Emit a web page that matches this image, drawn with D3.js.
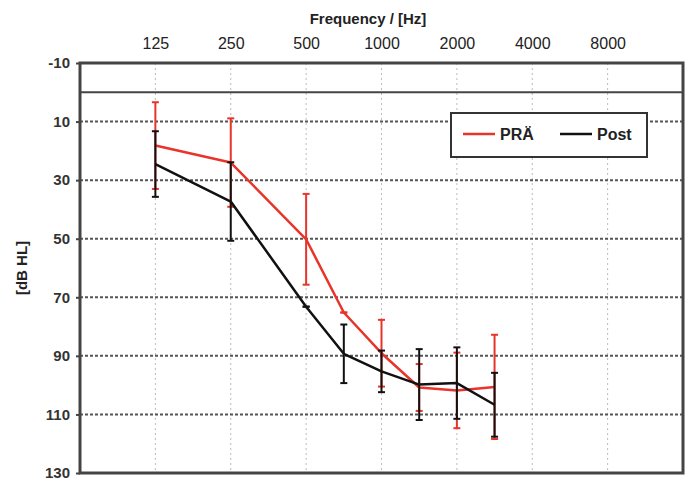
<!DOCTYPE html>
<html><head><meta charset="utf-8">
<script src="https://cdn.jsdelivr.net/npm/d3@7/dist/d3.min.js"></script>
<style>body{margin:0;background:#fff}svg{display:block}text{font-family:"Liberation Sans",Arial,sans-serif}</style>
</head><body><svg id="c" width="689" height="482"></svg>
<script>
// Data
const freqTicks = [125, 250, 500, 1000, 2000, 4000, 8000];
const dbTicks = [-10, 10, 30, 50, 70, 90, 110, 130];
const freqs = [125, 250, 500, 750, 1000, 1500, 2000, 3000];
const praMean = [18.2, 24.0, 50.2, 75.2, 89.1, 100.8, 101.8, 100.6];
const praSD   = [14.8, 15.1, 15.5, 0, 11.4, 8.0, 12.9, 17.8];
const postMean = [24.5, 37.3, 73.2, 89.3, 95.3, 99.8, 99.3, 106.7];
const postSD   = [11.2, 13.4, 0, 10.0, 7.1, 12.1, 12.2, 10.9];
const seriesNames = ["PRÄ", "Post"];
const colors = ["#e8342a", "#111"];

const svg = d3.select("#c");
const L = 80, R = 683, T = 63, B = 473;

// audiometric position: octaves above 125 Hz, intermediate frequencies placed halfway
const octPos = f => {
  const o = Math.log2(f / 125);
  const fl = Math.floor(o + 1e-9);
  return Math.abs(o - fl) < 1e-9 ? o : fl + 0.5;
};
const x = d3.scaleLinear().domain([-1, 7]).range([L, R]);
const y = d3.scaleLinear().domain([-10, 130]).range([T, B]);
const X = f => x(octPos(f));

// vertical dotted grid
svg.append("g").selectAll("line").data(freqTicks).join("line")
  .attr("x1", d => X(d)).attr("x2", d => X(d)).attr("y1", T).attr("y2", B)
  .attr("stroke", "#bbb").attr("stroke-width", 1).attr("stroke-dasharray", "2,3");
// horizontal dotted grid
svg.append("g").selectAll("line").data(dbTicks.filter(d => d > -10 && d < 130)).join("line")
  .attr("x1", L).attr("x2", R).attr("y1", d => y(d)).attr("y2", d => y(d))
  .attr("stroke", "#555").attr("stroke-width", 2).attr("stroke-dasharray", "3,2");
// 0 dB line
svg.append("line").attr("x1", L).attr("x2", R).attr("y1", y(0)).attr("y2", y(0))
  .attr("stroke", "#444").attr("stroke-width", 2);

// Left axis
const yAxis = d3.axisLeft(y).tickValues(dbTicks).tickSize(4).tickPadding(6).tickFormat(d => String(d));
const ga = svg.append("g").attr("transform", `translate(${L},0)`).call(yAxis);
ga.select(".domain").remove();
ga.selectAll("line").attr("stroke", "#444").attr("stroke-width", 2);
ga.selectAll("text").attr("font-size", 15).attr("font-weight", "bold").attr("fill", "#333");

// Top axis
const xAxis = d3.axisTop(x).tickValues(freqTicks.map(octPos)).tickSize(0).tickPadding(0)
  .tickFormat((d, i) => freqTicks[i]);
const gx = svg.append("g").attr("transform", `translate(0,${T - 14})`).call(xAxis);
gx.select(".domain").remove();
gx.selectAll("text").attr("font-size", 16).attr("fill", "#222");

// Frame
svg.append("rect").attr("x", L).attr("y", T).attr("width", R - L).attr("height", B - T)
  .attr("fill", "none").attr("stroke", "#444").attr("stroke-width", 3);

// Titles
svg.append("text").attr("x", 368).attr("y", 24).attr("text-anchor", "middle")
  .attr("font-size", 15).attr("font-weight", "bold").attr("fill", "#222").text("Frequency / [Hz]");
svg.append("text").attr("transform", "translate(27,268) rotate(-90)").attr("text-anchor", "middle")
  .attr("font-size", 15).attr("font-weight", "bold").attr("fill", "#222").text("[dB HL]");

// Series
const series = [
  {mean: praMean, sd: praSD, color: colors[0]},
  {mean: postMean, sd: postSD, color: colors[1]}
];
const line = d3.line().x(d => X(d.f)).y(d => y(d.m));
series.forEach(s => {
  const pts = freqs.map((f, i) => ({f, m: s.mean[i], sd: s.sd[i]}));
  const g = svg.append("g");
  // error bars
  pts.forEach(p => {
    g.append("line").attr("x1", X(p.f)).attr("x2", X(p.f))
      .attr("y1", y(p.m - p.sd)).attr("y2", y(p.m + p.sd))
      .attr("stroke", s.color).attr("stroke-width", 2);
    [p.m - p.sd, p.m + p.sd].forEach(v => {
      g.append("line").attr("x1", X(p.f) - 3.5).attr("x2", X(p.f) + 3.5)
        .attr("y1", y(v)).attr("y2", y(v)).attr("stroke", s.color).attr("stroke-width", 2);
    });
  });
  g.append("path").datum(pts).attr("d", line).attr("fill", "none")
    .attr("stroke", s.color).attr("stroke-width", 2.5).attr("stroke-linejoin", "round");
});

// Legend
const lg = svg.append("g");
lg.append("rect").attr("x", 451).attr("y", 113).attr("width", 196).attr("height", 44)
  .attr("fill", "#fff").attr("stroke", "#333").attr("stroke-width", 2);
[[463, 500], [560, 597]].forEach(([lx, tx], i) => {
  lg.append("line").attr("x1", lx).attr("x2", lx + 32).attr("y1", 134).attr("y2", 134)
    .attr("stroke", colors[i]).attr("stroke-width", 2.5);
  lg.append("text").attr("x", tx).attr("y", 140).attr("font-size", 16).attr("font-weight", "bold")
    .attr("fill", "#222").text(seriesNames[i]);
});
</script></body></html>
